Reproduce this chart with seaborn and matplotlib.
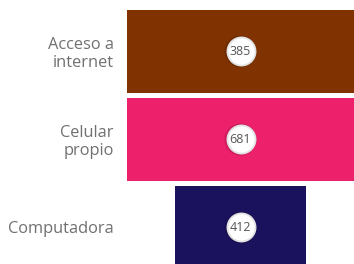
import matplotlib
matplotlib.use("Agg")
import matplotlib.pyplot as plt
import seaborn as sns
import pandas as pd

# funnel data
categories = ["Acceso a\ninternet", "Celular\npropio", "Computadora"]
values = [385, 681, 412]
# relative width of each funnel segment (shape of the funnel, neck is narrower)
seg_width = [1.0, 1.0, 0.58]
colors = ["#803300", "#ED216B", "#1B125E"]

sns.set_theme(style="white")
plt.rcParams["font.family"] = ["Open Sans", "DejaVu Sans"]

df = pd.DataFrame({"cat": categories, "value": values, "w": seg_width})
df["pos"] = range(len(df))

fig = plt.figure(figsize=(3.54, 2.64), dpi=100)
ax = fig.add_axes([127 / 354, 0, 227 / 354, 1])

# bars centred on zero, like a funnel
ax.barh(df["pos"], 2 * df["w"], left=-df["w"], height=0.943,
        color=colors, edgecolor="none")

# value badges: soft shadow + white disc
sns.scatterplot(x=[0] * len(df), y=df["pos"], s=540, color="#000000",
                alpha=0.13, edgecolor="none", ax=ax, legend=False)
sns.scatterplot(x=[0] * len(df), y=df["pos"], s=410, color="white",
                edgecolor="#e2e2e2", linewidth=1.3, ax=ax, legend=False)
for p, v in zip(df["pos"], df["value"]):
    ax.text(0, p, str(v), ha="center", va="center", fontsize=9,
            color="#555555")

ax.set_xlim(-1, 1)
ax.set_ylim(2.415, -0.585)
ax.set_yticks(df["pos"])
ax.set_yticklabels(df["cat"], fontsize=11.8, color="#707070",
                   linespacing=1.1)
ax.tick_params(axis="y", length=0, pad=9.5)
ax.set_xticks([])
ax.set_xlabel("")
ax.set_ylabel("")
sns.despine(ax=ax, left=True, bottom=True)

fig.savefig("out.png", dpi=100)
